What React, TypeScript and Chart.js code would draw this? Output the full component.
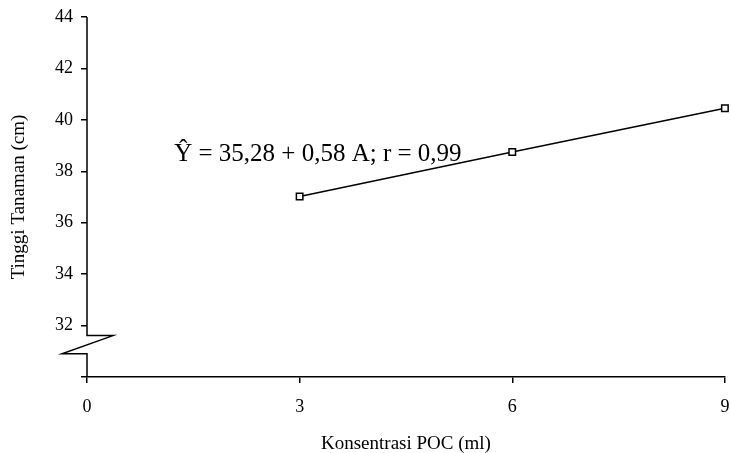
import React, { useEffect, useRef } from "react";
import { Chart, registerables } from "chart.js";

Chart.register(...registerables);

const xValues = [3, 6, 9];
const yValues = [37.02, 38.75, 40.45];
const xTicks = [0, 3, 6, 9];
const yTicks = [30, 32, 34, 36, 38, 40, 42, 44];
const equationText = "Ŷ = 35,28 + 0,58 A; r = 0,99";
const xTitle = "Konsentrasi POC (ml)";
const yTitle = "Tinggi Tanaman (cm)";
const FONT = "'Liberation Serif', 'Times New Roman', serif";

const breakPlugin = {
  id: "axisBreak",
  afterDraw(chart: any) {
    const { ctx } = chart;
    const y = chart.scales.y;
    const x = chart.scales.x;
    const ax = x.getPixelForValue(0);
    const top = y.getPixelForValue(44);
    const bottom = y.getPixelForValue(30);
    const b1 = y.getPixelForValue(31.61);
    const b2 = y.getPixelForValue(30.9);
    ctx.save();
    ctx.strokeStyle = "#000";
    ctx.lineWidth = 1.5;
    ctx.beginPath();
    ctx.moveTo(ax, top);
    ctx.lineTo(ax, b1);
    ctx.lineTo(ax + 26, b1);
    ctx.lineTo(ax - 25, b2);
    ctx.lineTo(ax, b2);
    ctx.lineTo(ax, bottom);
    ctx.stroke();
    // equation annotation
    ctx.fillStyle = "#000";
    ctx.font = `25px ${FONT}`;
    ctx.textAlign = "left";
    ctx.textBaseline = "middle";
    ctx.fillText(equationText, x.getPixelForValue(1.23), y.getPixelForValue(38.65));
    ctx.restore();
  },
};

export default function App() {
  const ref = useRef<HTMLCanvasElement>(null);
  useEffect(() => {
    document.body.style.margin = "0";
    const canvas = ref.current!;
    const chart = new Chart(canvas, {
      type: "scatter",
      data: {
        datasets: [
          {
            data: xValues.map((v, i) => ({ x: v, y: yValues[i] })),
            showLine: true,
            borderColor: "#000",
            borderWidth: 1.5,
            pointStyle: "rect",
            pointRadius: 4.6,
            pointBackgroundColor: "#fff",
            pointBorderColor: "#000",
            pointBorderWidth: 1.5,
            clip: false as any,
          },
        ],
      },
      options: {
        responsive: false,
        devicePixelRatio: 1,
        animation: false,
        layout: { padding: { left: 0, right: 2, top: 17, bottom: 0 } },
        plugins: { legend: { display: false }, tooltip: { enabled: false } },
        scales: {
          x: {
            type: "linear",
            min: 0,
            max: 9,
            afterBuildTicks: (s: any) => {
              s.ticks = xTicks.map((v) => ({ value: v }));
            },
            afterFit: (s: any) => {
              s.height = 76;
              s.paddingRight = 0;
              s.paddingLeft = 0;
            },
            border: { display: true, color: "#000", width: 1.5 },
            grid: {
              display: true,
              drawOnChartArea: false,
              drawTicks: true,
              tickLength: 6,
              color: "#000",
              lineWidth: 1.5,
            },
            ticks: {
              color: "#000",
              font: { family: FONT, size: 18 },
              padding: 13,
              maxRotation: 0,
            },
            title: {
              display: true,
              text: xTitle,
              color: "#000",
              font: { family: FONT, size: 19 },
              padding: { top: 0, bottom: -2 },
            },
          },
          y: {
            type: "linear",
            min: 30,
            max: 44,
            afterBuildTicks: (s: any) => {
              s.ticks = yTicks.map((v) => ({ value: v }));
            },
            afterFit: (s: any) => {
              s.width = 87;
              s.paddingTop = 0;
              s.paddingBottom = 0;
            },
            border: { display: false },
            grid: {
              display: true,
              drawOnChartArea: false,
              drawTicks: true,
              tickLength: 6,
              color: "#000",
              lineWidth: 1.5,
            },
            ticks: {
              color: "#000",
              font: { family: FONT, size: 18 },
              padding: 8,
              callback: (v: any) => (v === 30 ? "" : String(v)),
            },
            title: {
              display: true,
              text: yTitle,
              color: "#000",
              font: { family: FONT, size: 19 },
              padding: { top: 8, bottom: 0 },
            },
          },
        },
      },
      plugins: [breakPlugin],
    });
    return () => chart.destroy();
  }, []);
  return <canvas ref={ref} width={731} height={453} style={{ display: "block" }} />;
}
